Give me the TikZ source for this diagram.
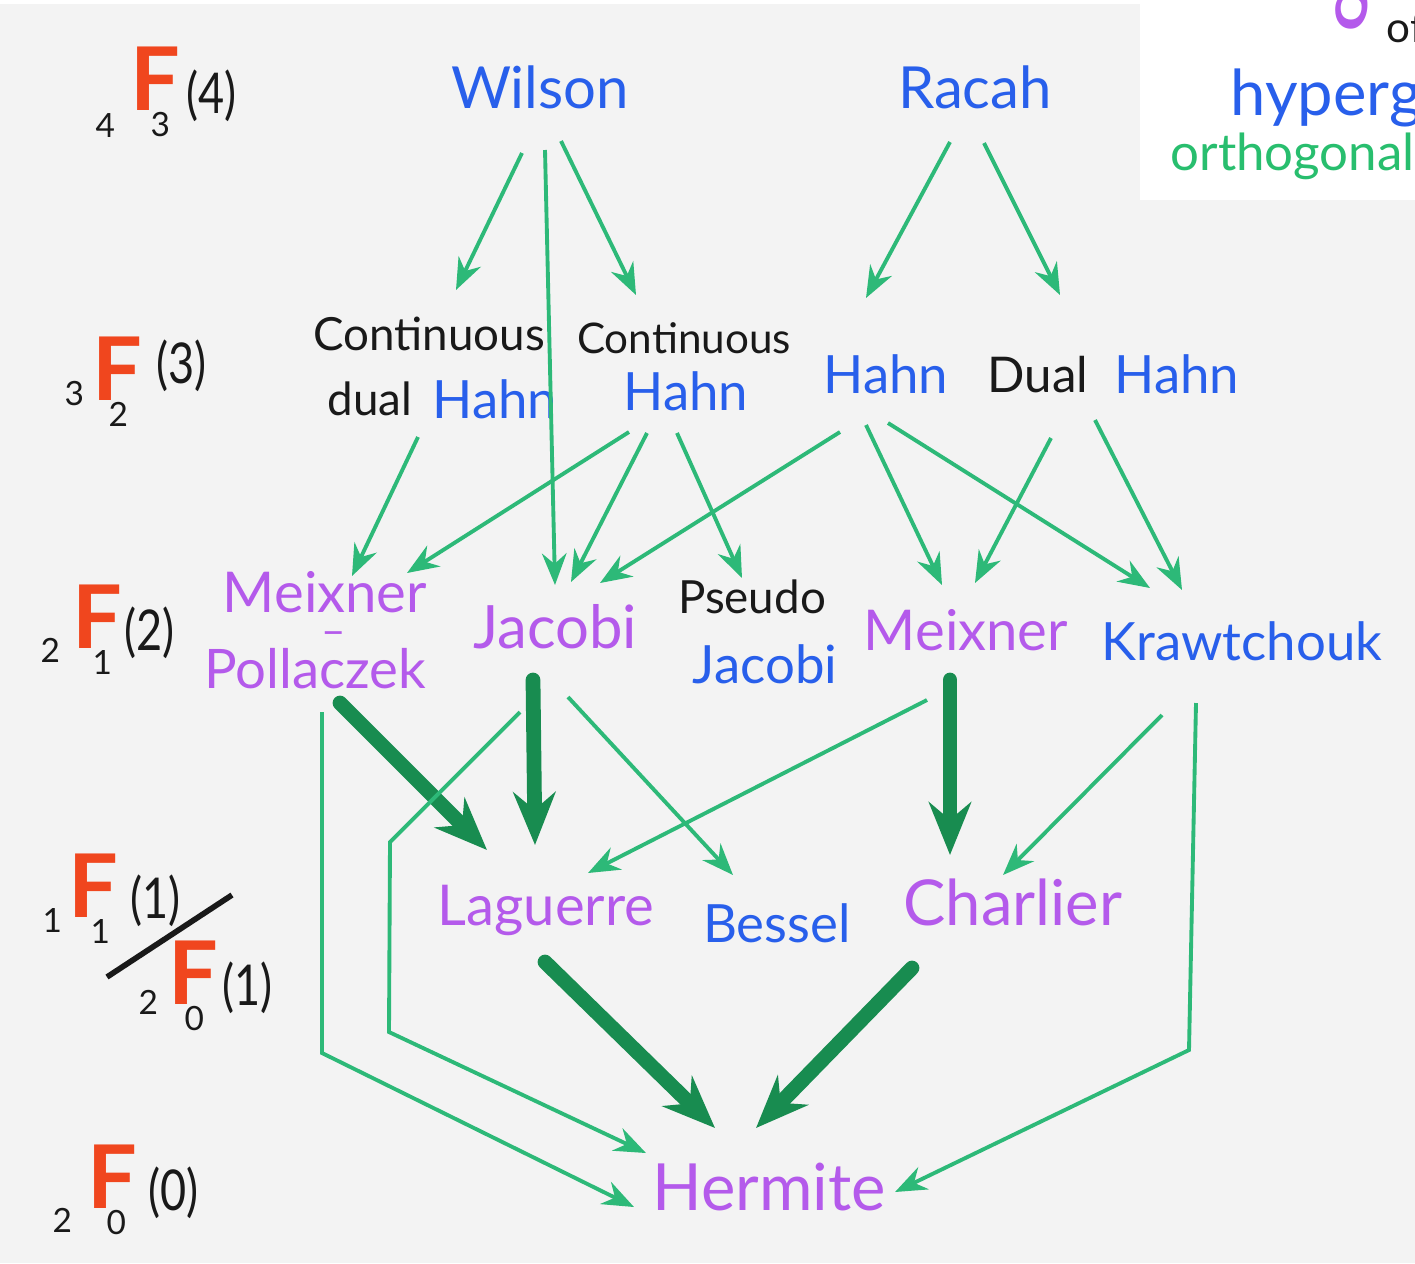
\documentclass[tikz,border=0pt]{standalone}
\usepackage{fontspec}
\setmainfont{Lato}
\usetikzlibrary{arrows.meta,calc}
\definecolor{bg}{RGB}{243,243,243}
\definecolor{nblue}{RGB}{40,95,235}
\definecolor{nmag}{RGB}{180,90,235}
\definecolor{nblk}{RGB}{25,25,25}
\definecolor{nred}{RGB}{240,70,30}
\definecolor{gthin}{RGB}{45,185,120}
\definecolor{gthick}{RGB}{24,140,80}
\definecolor{ngreen}{RGB}{40,190,110}
\tikzset{
  lbl/.style={inner sep=0pt, anchor=base},
  fs/.style={font=\fontsize{#1}{#1}\selectfont},
  blu/.style={lbl, text=nblue},
  mag/.style={lbl, text=nmag},
  blk/.style={lbl, text=nblk},
  thinarr/.style={draw=gthin, line width=1.1pt, -{Stealth[length=9pt,width=7pt,inset=3pt]}},
  thickarr/.style={draw=gthick, line width=4.2pt, line cap=round, -{Stealth[length=15pt,width=12pt,inset=5pt]}},
  bigF/.style={inner sep=0pt, anchor=base west, text=nred, font=\fontsize{25}{25}\selectfont\bfseries},
  subd/.style={inner sep=0pt, anchor=base west, text=nblk, font=\fontsize{9.5}{9.5}\selectfont},
  parn/.style={inner sep=0pt, anchor=base west, text=nblk, xscale=0.8, font=\fontsize{16}{16}\selectfont},
}
\begin{document}
\begin{tikzpicture}[x=0.01cm,y=-0.01cm]
\useasboundingbox (0,0) rectangle (1415,1263);
\clip (0,0) rectangle (1415,1263);
\fill[bg] (0,0) rectangle (1415,1263);
\fill[white] (0,0) rectangle (1415,4);
\fill[white] (1140,0) rectangle (1415,200);

% top-right title fragments
\node[lbl, anchor=base west, text=nmag, fs=40, xscale=0.5] (tg) at (1333,3) {g};
\node[blk, anchor=base west, fs=12] (tof) at (1386,42) {of};
\node[blu, anchor=base west, fs=18] (thyp) at (1230,115) {hypergeometric};
\node[lbl, anchor=base west, text=ngreen, fs=14.5] (torth) at (1170,170) {orthogonal polynomials};

% level labels
\node[bigF] (f43) at (130,110) {F};
\node[subd] (f43a) at (95,137) {4};
\node[subd] (f43b) at (150,136) {3};
\node[parn] (f43c) at (186,113) {(4)};

\node[bigF] (f32) at (92,400) {F};
\node[subd] (f32a) at (64,405) {3};
\node[subd] (f32b) at (108,426) {2};
\node[parn] (f32c) at (156,383) {(3)};

\node[bigF] (f21) at (72,648) {F};
\node[subd] (f21a) at (40,662) {2};
\node[subd] (f21b) at (92,674) {1};
\node[parn] (f21c) at (124,650) {(2)};

\node[bigF] (f11) at (68,917) {F};
\node[subd] (f11a) at (42,932) {1};
\node[subd] (f11b) at (90,943) {1};
\node[parn] (f11c) at (130,918) {(1)};
\draw[nblk, line width=1.6pt] (107,977) -- (232,895);
\node[bigF] (f20) at (168,1004) {F};
\node[subd] (f20a) at (138,1014) {2};
\node[subd] (f20b) at (184,1030) {0};
\node[parn] (f20c) at (222,1005) {(1)};

\node[bigF] (f00) at (87,1208) {F};
\node[subd] (f00a) at (52,1232) {2};
\node[subd] (f00b) at (106,1234) {0};
\node[parn] (f00c) at (148,1210) {(0)};

% polynomial families
\node[blu, fs=16.5] (wilson) at (540,108) {Wilson};
\node[blu, fs=16.5] (racah) at (975,108) {Racah};

\node[blk, fs=13] (cdhc) at (429,350) {Continuous};
\node[blk, fs=13] (cdhd) at (370,415) {dual};
\node[blu, fs=15] (cdh) at (495,418) {Hahn};
\node[blk, fs=12] (chc) at (684,353) {Continuous};
\node[blu, fs=15] (ch) at (686,410) {Hahn};
\node[blu, fs=15] (hahn) at (886,393) {Hahn};
\node[blk, fs=14] (dhd) at (1038,392) {Dual};
\node[blu, fs=15] (dh) at (1177,393) {Hahn};

\node[mag, fs=16] (mp) at (325,612) {Meixner};
\node[mag, fs=12] (mpd) at (334,645) {–};
\node[mag, fs=15.5] (mpp) at (315,688) {Pollaczek};
\node[mag, fs=17] (jacobi) at (555,648) {Jacobi};
\node[blk, fs=13] (pjp) at (752,613) {Pseudo};
\node[blu, fs=15] (pjj) at (765,683) {Jacobi};
\node[mag, fs=16] (meixner) at (966,650) {Meixner};
\node[blu, fs=15] (kraw) at (1242,660) {Krawtchouk};

\node[mag, fs=16] (laguerre) at (546,925) {Laguerre};
\node[blu, fs=15] (bessel) at (777,942) {Bessel};
\node[mag, fs=18] (charlier) at (1013,925) {Charlier};
\node[mag, fs=18.5] (hermite) at (769,1210) {Hermite};

% bend points
\coordinate (bj1) at (390,842);
\coordinate (bj2) at (389,1032);
\coordinate (bm1) at (322,1053);
\coordinate (bk1) at (1189,1050);

% 4F3 -> 3F2
\draw[thinarr] ($(wilson.base)+(-18,45)$) -- ($(cdh.base)+(-39,-128)$);
\draw[thinarr] ($(wilson.base)+(5,42)$) -- ($(jacobi.base)+(0,-63)$);
\draw[thinarr] ($(wilson.base)+(21,33)$) -- ($(ch.base)+(-50,-115)$);
\draw[thinarr] ($(racah.base)+(-25,34)$) -- ($(hahn.base)+(-20,-95)$);
\draw[thinarr] ($(racah.base)+(9,35)$) -- ($(dhd.base)+(22,-97)$);

% 3F2 -> 2F1
\draw[thinarr] ($(cdh.base)+(-77,19)$) -- ($(mp.base)+(27,-36)$);
\draw[thinarr] ($(ch.base)+(-57,22)$) -- ($(mp.base)+(82,-39)$);
\draw[thinarr] ($(ch.base)+(-39,23)$) -- ($(jacobi.base)+(16,-66)$);
\draw[thinarr] ($(ch.base)+(-9,23)$) -- ($(pjp.base)+(-10,-35)$);
\draw[thinarr] ($(hahn.base)+(-46,39)$) -- ($(jacobi.base)+(45,-65)$);
\draw[thinarr] ($(hahn.base)+(-20,32)$) -- ($(meixner.base)+(-24,-65)$);
\draw[thinarr] ($(hahn.base)+(2,30)$) -- ($(kraw.base)+(-92,-72)$);
\draw[thinarr] ($(dhd.base)+(13,46)$) -- ($(meixner.base)+(9,-67)$);
\draw[thinarr] ($(dhd.base)+(57,28)$) -- ($(kraw.base)+(-60,-70)$);

% 2F1 -> 1F1/2F0
\draw[thickarr] ($(mpp.base)+(25,15)$) -- ($(laguerre.base)+(-59,-75)$);
\draw[thickarr] ($(jacobi.base)+(-22,32)$) -- ($(laguerre.base)+(-11,-80)$);
\draw[thinarr] ($(jacobi.base)+(13,49)$) -- ($(bessel.base)+(-44,-67)$);
\draw[thinarr] ($(meixner.base)+(-39,50)$) -- ($(laguerre.base)+(42,-52)$);
\draw[thickarr] ($(meixner.base)+(-16,30)$) -- ($(charlier.base)+(-63,-70)$);
\draw[thinarr] ($(kraw.base)+(-80,55)$) -- ($(charlier.base)+(-10,-50)$);

% to Hermite
\draw[thinarr] ($(jacobi.base)+(-35,64)$) -- (bj1) -- (bj2) -- ($(hermite.base)+(-123,-57)$);
\draw[thinarr] ($(mpp.base)+(7,24)$) -- (bm1) -- ($(hermite.base)+(-135,-3)$);
\draw[thinarr] ($(kraw.base)+(-46,43)$) -- (bk1) -- ($(hermite.base)+(126,-18)$);
\draw[thickarr] ($(laguerre.base)+(-1,37)$) -- ($(hermite.base)+(-54,-82)$);
\draw[thickarr] ($(charlier.base)+(-101,43)$) -- ($(hermite.base)+(-13,-82)$);
\end{tikzpicture}
\end{document}
